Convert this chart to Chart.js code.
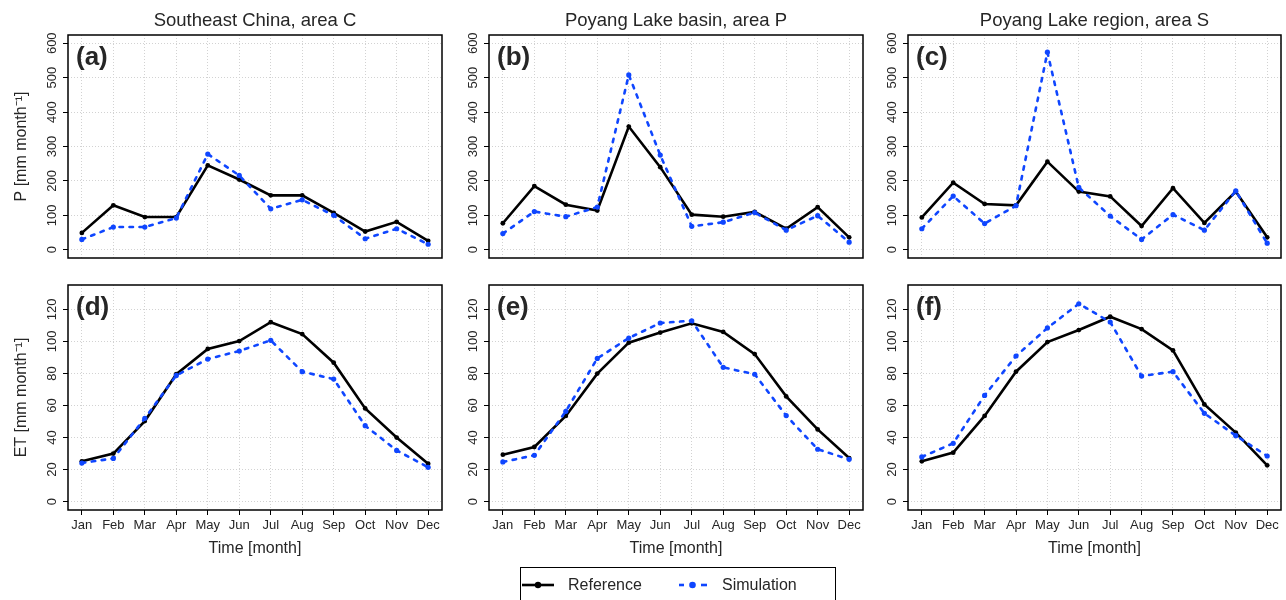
<!DOCTYPE html>
<html>
<head>
<meta charset="utf-8">
<script src="https://cdn.jsdelivr.net/npm/chart.js@4.4.1/dist/chart.umd.min.js"></script>
<style>
  body { margin: 0; background: #fff; width: 1286px; height: 600px; overflow: hidden; position: relative;
         font-family: "Liberation Sans", Arial, Helvetica, sans-serif; }
  canvas { position: absolute; }
  #legend { position: absolute; left: 520px; top: 567px; width: 314px; height: 50px; border: 1px solid #000; }
  #legend .sym { position: absolute; top: 12px; }
  #legend .txt { position: absolute; top: 7px; font-size: 16px; line-height: 20px; color: #262626; }
</style>
</head>
<body>
<canvas id="pa" width="447" height="262" style="left:0;top:0"></canvas>
<canvas id="pb" width="447" height="262" style="left:421px;top:0"></canvas>
<canvas id="pc" width="446" height="262" style="left:840px;top:0"></canvas>
<canvas id="pd" width="447" height="298" style="left:0;top:262px"></canvas>
<canvas id="pe" width="447" height="298" style="left:421px;top:262px"></canvas>
<canvas id="pf" width="446" height="298" style="left:840px;top:262px"></canvas>
<div id="legend"></div>
<script>
// monthly climatology, precipitation (P) and evapotranspiration (ET)
var MONTHS = ["Jan", "Feb", "Mar", "Apr", "May", "Jun", "Jul", "Aug", "Sep", "Oct", "Nov", "Dec"];
var P_TICKS = [0, 100, 200, 300, 400, 500, 600];
var ET_TICKS = [0, 20, 40, 60, 80, 100, 120];

var P_REF_C = [49, 129, 95, 95, 245, 204, 158, 158, 107, 53, 81, 26];
var P_SIM_C = [30, 66, 66, 92, 278, 216, 119, 145, 100, 32, 61, 16];
var P_REF_P = [77, 185, 131, 114, 358, 240, 102, 96, 110, 61, 124, 36];
var P_SIM_P = [47, 111, 96, 124, 508, 275, 68, 80, 108, 57, 99, 22];
var P_REF_S = [94, 195, 133, 129, 256, 169, 155, 69, 179, 78, 169, 36];
var P_SIM_S = [61, 156, 76, 128, 574, 181, 98, 30, 102, 57, 171, 19];

var ET_REF_C = [25.2, 30, 50.3, 79.5, 95.3, 100.2, 112, 104.6, 86.7, 58.2, 40, 23.7];
var ET_SIM_C = [24.1, 27, 52, 78.8, 89, 94, 100.7, 81.1, 76.5, 47.4, 32, 21.4];
var ET_REF_P = [29.3, 34.1, 53.5, 79.9, 99.2, 105.5, 111.3, 105.9, 92.1, 65.7, 45.1, 27.2];
var ET_SIM_P = [24.8, 28.9, 56.4, 89.4, 102.1, 111.5, 112.9, 83.8, 79.5, 53.7, 32.7, 26.4];
var ET_REF_S = [25.2, 30.6, 53.5, 81.1, 99.6, 107.1, 115.4, 107.7, 94.4, 60.7, 43.1, 22.7];
var ET_SIM_S = [27.9, 36.4, 66.3, 90.9, 108.4, 123.5, 112.1, 78.4, 81.1, 55.1, 41.2, 28.5];

var INK = "#262626";
var GRID = "#d2d2d2";
var BLUE = "#0f46ff";
var FONT = '"Liberation Sans", Arial, Helvetica, sans-serif';

Chart.defaults.font.family = FONT;
Chart.defaults.color = INK;
Chart.defaults.animation = false;

function xy(vals) {
  return vals.map(function (v, i) { return { x: i + 1, y: v }; });
}

// frame, panel letter and column heading
var panelDecor = {
  id: "panelDecor",
  beforeDatasetsDraw: function (chart, args, o) {
    var a = chart.chartArea, ctx = chart.ctx;
    ctx.save();
    ctx.strokeStyle = "#000";
    ctx.lineWidth = 1.5;
    ctx.strokeRect(a.left, a.top, a.right - a.left, a.bottom - a.top);
    ctx.fillStyle = INK;
    ctx.font = "bold 26px " + FONT;
    ctx.textAlign = "left";
    ctx.textBaseline = "alphabetic";
    ctx.fillText(o.letter, a.left + 8, a.top + 30);
    if (o.title) {
      ctx.font = "18.5px " + FONT;
      ctx.textAlign = "center";
      ctx.textBaseline = "middle";
      ctx.fillText(o.title, (a.left + a.right) / 2, a.top - 14.5);
    }
    ctx.restore();
  }
};

function gridOpts(ticks) {
  return { color: GRID, lineWidth: 1, borderDash: [1, 2], drawTicks: ticks,
    tickLength: 5, tickColor: "#000", tickWidth: 1, tickBorderDash: [] };
}

function makePanel(id, p) {
  var bottomRow = !!p.showX;
  return new Chart(document.getElementById(id), {
    type: "line",
    data: { datasets: [
      { label: "Reference", data: xy(p.ref), borderColor: "#000", backgroundColor: "#000",
        borderWidth: 2.6, pointRadius: 2.4, pointBorderWidth: 0, tension: 0, order: 1 },
      { label: "Simulation", data: xy(p.sim), borderColor: BLUE, backgroundColor: BLUE,
        borderWidth: 2.6, borderDash: [3.5, 6.5], borderCapStyle: "round",
        pointRadius: 2.6, pointBorderWidth: 0, tension: 0, order: 0 }
    ] },
    options: {
      responsive: false, devicePixelRatio: 1,
      layout: { padding: { top: bottomRow ? 23 : 35, right: 5, bottom: bottomRow ? 0 : 2, left: 0 } },
      plugins: {
        legend: { display: false },
        panelDecor: { letter: p.letter, title: p.title }
      },
      scales: {
        x: {
          type: "linear", min: 0.56, max: 12.44,
          afterBuildTicks: function (s) { s.ticks = MONTHS.map(function (m, i) { return { value: i + 1 }; }); },
          afterFit: function (s) { s.height = bottomRow ? 50 : 0; s.paddingLeft = 0; s.paddingRight = 0; },
          ticks: { display: bottomRow, autoSkip: false, maxRotation: 0, padding: 3,
            font: { size: 13 }, color: INK,
            callback: function (v) { return MONTHS[v - 1]; } },
          grid: gridOpts(bottomRow),
          border: { display: false, dash: [1, 2] },
          title: { display: bottomRow, text: "Time [month]", font: { size: 16 }, color: INK,
            padding: { top: 0, bottom: 1.4 } }
        },
        y: {
          min: p.min, max: p.max,
          afterBuildTicks: function (s) { s.ticks = p.ticks.map(function (v) { return { value: v }; }); },
          afterFit: function (s) { s.width = 68; s.paddingTop = 0; s.paddingBottom = 0; },
          ticks: { autoSkip: false, minRotation: 90, maxRotation: 90, crossAlign: "center",
            padding: 0, font: { size: 13 }, color: INK },
          grid: gridOpts(true),
          border: { display: false, dash: [1, 2] },
          title: { display: !!p.yTitle, text: p.yTitle, font: { size: 16 }, color: INK,
            padding: { top: 11.5, bottom: 0 } }
        }
      }
    },
    plugins: [panelDecor]
  });
}

var P_AXIS = { ticks: P_TICKS, min: -24, max: 624 };
var ET_AXIS = { ticks: ET_TICKS, min: -5.2, max: 135.2 };

makePanel("pa", Object.assign({ letter: "(a)", title: "Southeast China, area C", yTitle: "P [mm month\u207B\u00B9]",
  ref: P_REF_C, sim: P_SIM_C }, P_AXIS));
makePanel("pb", Object.assign({ letter: "(b)", title: "Poyang Lake basin, area P",
  ref: P_REF_P, sim: P_SIM_P }, P_AXIS));
makePanel("pc", Object.assign({ letter: "(c)", title: "Poyang Lake region, area S",
  ref: P_REF_S, sim: P_SIM_S }, P_AXIS));
makePanel("pd", Object.assign({ letter: "(d)", yTitle: "ET [mm month\u207B\u00B9]", showX: true,
  ref: ET_REF_C, sim: ET_SIM_C }, ET_AXIS));
makePanel("pe", Object.assign({ letter: "(e)", showX: true,
  ref: ET_REF_P, sim: ET_SIM_P }, ET_AXIS));
makePanel("pf", Object.assign({ letter: "(f)", showX: true,
  ref: ET_REF_S, sim: ET_SIM_S }, ET_AXIS));

// shared legend below the panels
var legend = document.getElementById("legend");
legend.innerHTML =
  '<svg class="sym" style="left:1px" width="32" height="10">' +
    '<line x1="0" y1="5" x2="32" y2="5" stroke="#000" stroke-width="2.6"/>' +
    '<circle cx="16" cy="5" r="3.2" fill="#000"/></svg>' +
  '<span class="txt" style="left:47px">Reference</span>' +
  '<svg class="sym" style="left:157px" width="30" height="10">' +
    '<line x1="1" y1="5" x2="6" y2="5" stroke="' + BLUE + '" stroke-width="2.6"/>' +
    '<circle cx="14.5" cy="5" r="3.3" fill="' + BLUE + '"/>' +
    '<line x1="23" y1="5" x2="29" y2="5" stroke="' + BLUE + '" stroke-width="2.6"/></svg>' +
  '<span class="txt" style="left:201px">Simulation</span>';
</script>
</body>
</html>
